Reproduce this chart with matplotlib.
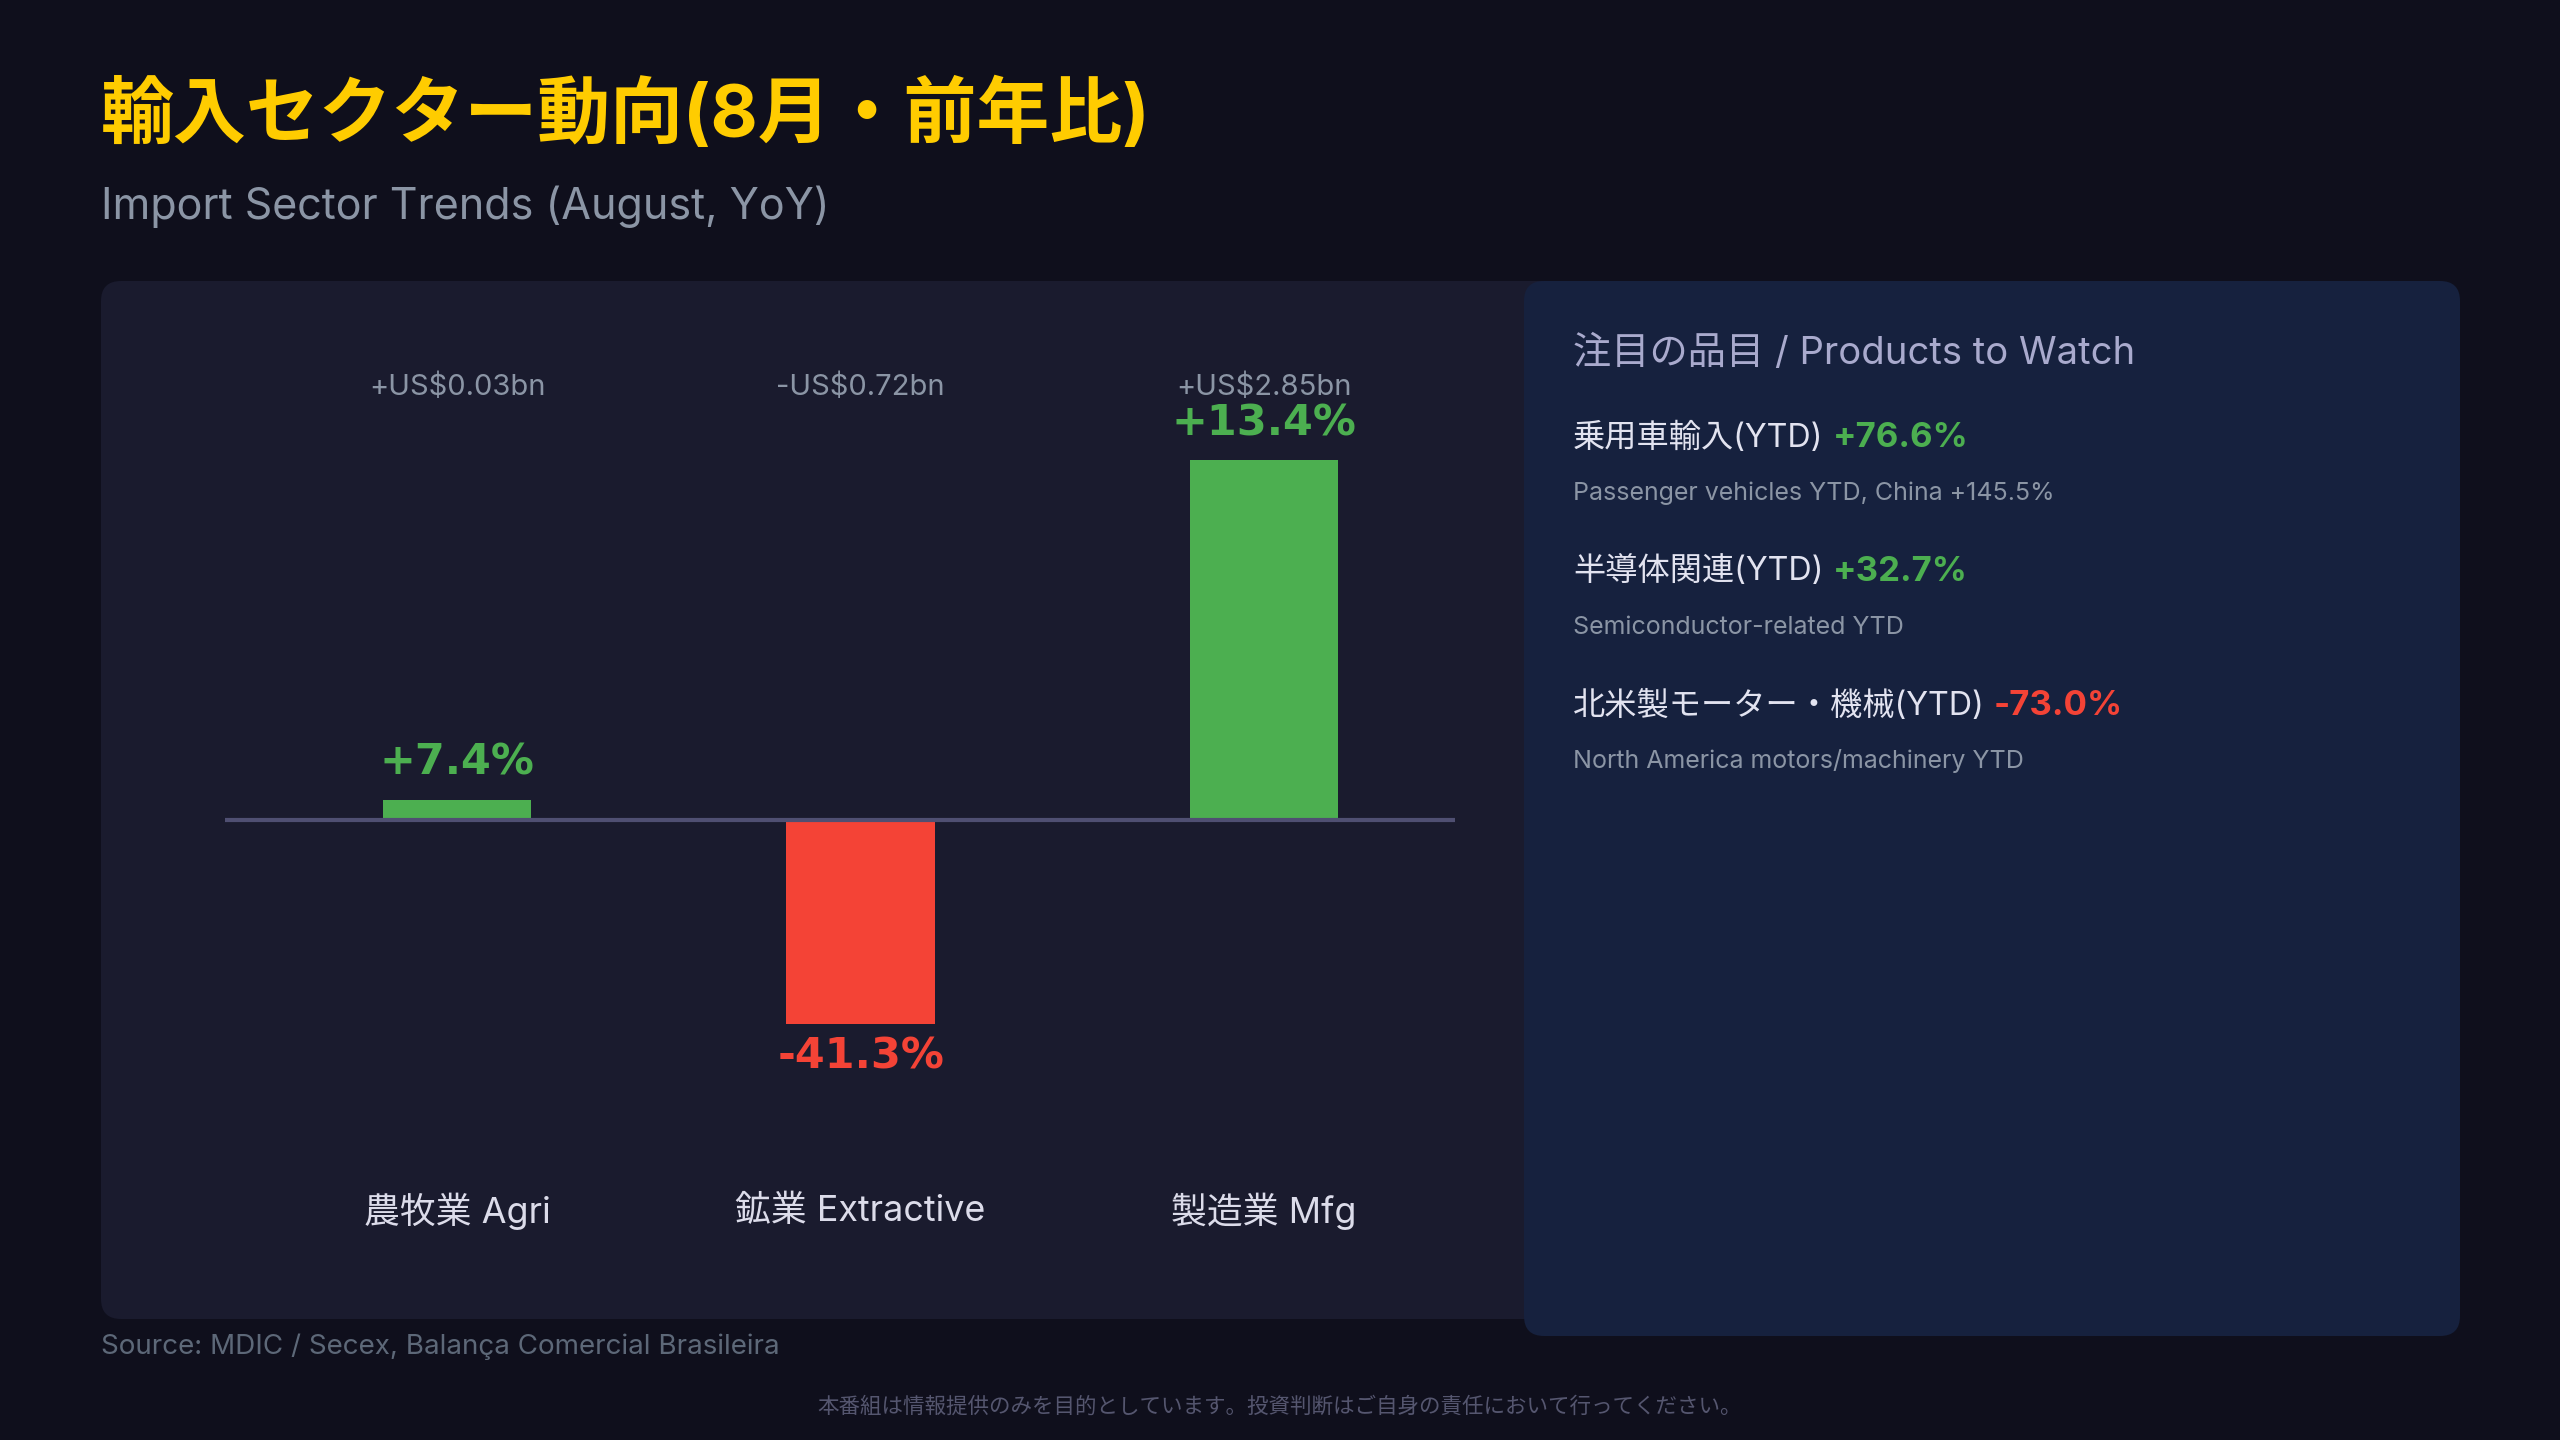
import matplotlib
matplotlib.use('Agg')

import numpy as np
import matplotlib.pyplot as plt
from matplotlib.patches import FancyBboxPatch

plt.rcParams['font.family'] = ['Inter', 'Noto Sans CJK JP', 'DejaVu Sans']

# データ
categories = ['農牧業 Agri', '鉱業 Extractive', '製造業 Mfg']
change_bn = [0.03, -0.72, 2.85]
yoy_pct = [7.4, -41.3, 13.4]

watch_labels = ['乗用車輸入(YTD)', '半導体関連(YTD)', '北米製モーター・機械(YTD)']
watch_pct = [76.6, 32.7, -73.0]
watch_notes = ['Passenger vehicles YTD, China +145.5%',
               'Semiconductor-related YTD',
               'North America motors/machinery YTD']

title = '輸入セクター動向(8月・前年比)'
subtitle = 'Import Sector Trends (August, YoY)'
panel_title = '注目の品目 / Products to Watch'
source = 'Source: MDIC / Secex, Balança Comercial Brasileira'
disclaimer = '本番組は情報提供のみを目的としています。投資判断はご自身の責任において行ってください。'

# 色
BG = '#0f0f1c'
PANEL_L = '#1a1b2e'
PANEL_R = '#16213e'
GREEN = '#4caf50'
RED = '#f44336'
GRAY = '#8b95a5'

W, H = 2560, 1440
fig = plt.figure(figsize=(W / 100, H / 100), dpi=100, facecolor=BG)

# 背景用の軸（ピクセル座標）
bg = fig.add_axes([0, 0, 1, 1])
bg.set_xlim(0, W)
bg.set_ylim(H, 0)
bg.axis('off')

bg.add_patch(FancyBboxPatch((101, 281), 1460, 1038,
                            boxstyle='round,pad=0,rounding_size=20',
                            fc=PANEL_L, ec='none'))
bg.add_patch(FancyBboxPatch((1524, 281), 936, 1055,
                            boxstyle='round,pad=0,rounding_size=20',
                            fc=PANEL_R, ec='none'))

bg.text(101, 116, title, color='#ffcc00', fontsize=52.5, fontweight='bold',
        va='center', ha='left')
bg.text(101, 207, subtitle, color=GRAY, fontsize=31, va='center', ha='left')
bg.text(101, 1347, source, color='#5d6878', fontsize=20, va='center', ha='left')
bg.text(1280, 1406, disclaimer, color='#55566f', fontsize=15.5, va='center', ha='center')

# 右パネル
bg.text(1573, 354, panel_title, color='#a9aacd', fontsize=27.5, va='center', ha='left')
label_y = [438, 572, 706]
note_y = [493, 627, 761]
label_texts = []
for lab, ny, ly, note in zip(watch_labels, note_y, label_y, watch_notes):
    t = bg.text(1573, ly, lab, color='#e2e3f0', fontsize=23.2, va='center', ha='left')
    label_texts.append(t)
    bg.text(1573, ny, note, color=GRAY, fontsize=18, va='center', ha='left')

fig.canvas.draw()
renderer = fig.canvas.get_renderer()
for t, ly, p in zip(label_texts, label_y, watch_pct):
    x1 = t.get_window_extent(renderer).x1
    bg.text(x1 + 9, ly, f'{p:+.1f}%', color=GREEN if p >= 0 else RED,
            fontsize=25, fontweight='bold', va='center', ha='left')

# チャート
ax = fig.add_axes([0.0879, 0.1814, 0.4805, 0.4989])
ax.set_facecolor('none')
ax.axis('off')


def fwd(y):
    y = np.asarray(y, dtype=float)
    return np.sign(y) * np.log1p(np.abs(y) / 0.18)


def inv(z):
    z = np.asarray(z, dtype=float)
    return np.sign(z) * 0.18 * np.expm1(np.abs(z))


ax.set_yscale('function', functions=(fwd, inv))
x = np.arange(len(categories))
bar_colors = [GREEN if v >= 0 else RED for v in change_bn]
ax.bar(x, change_bn, width=0.368, color=bar_colors, zorder=2)
ax.axhline(0, color='#4f4f72', lw=3, zorder=3)
ax.set_xlim(-0.575, 2.473)
ax.set_ylim(-2.85, 2.85)

for xi, v, p, c in zip(x, change_bn, yoy_pct, bar_colors):
    off = 18 if v >= 0 else -32
    ax.annotate(f'{p:+.1f}%', xy=(xi, v), xytext=(0, off), textcoords='offset points',
                ha='center', va='baseline', color=c, fontsize=31, fontweight='heavy',
                family=['DejaVu Sans'])
    sign = '+' if v >= 0 else '-'
    ax.text(xi, 1.102, f'{sign}US${abs(v):.2f}bn', transform=ax.get_xaxis_transform(),
            ha='center', va='center', color=GRAY, fontsize=21)

for xi, cat in zip(x, categories):
    ax.text(xi, -0.0455, cat, transform=ax.get_xaxis_transform(),
            ha='center', va='center', color='#dcdcea', fontsize=25.8)

fig.savefig('out.png', dpi=100, facecolor=BG)
